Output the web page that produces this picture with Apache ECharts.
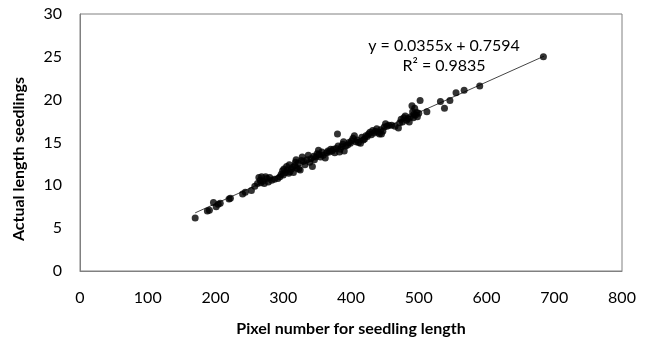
<!DOCTYPE html>
<html>
<head>
<meta charset="utf-8">
<script src="https://cdn.jsdelivr.net/npm/echarts@6/dist/echarts.min.js"></script>
<style>html,body{margin:0;padding:0;background:#fff;}#c{width:645px;height:350px;}</style>
</head>
<body>
<div id="c"></div>
<script>
var pixelCounts = [170,188,191,197,201,204,207,220,222,240,244,253,258,262,264,266,267,268,270,272,274,276,278,280,283,287,292,295,297,299,300,301,303,305,306,308,309,310,312,314,315,317,318,319,320,322,323,325,327,328,330,332,335,337,339,341,343,345,346,348,350,352,353,355,357,359,362,364,366,368,370,372,374,376,378,380,381,383,384,386,388,389,390,392,395,397,399,401,403,405,407,409,411,414,416,418,420,422,424,426,428,430,432,434,436,438,440,442,444,445,447,449,451,453,456,460,465,470,472,474,476,478,480,482,484,486,488,490,491,492,493,494,495,497,498,500,502,512,532,538,546,555,567,590,684];
var actualLengths = [6.2,7.0,7.1,8.0,7.5,7.8,7.9,8.4,8.5,9.0,9.2,9.4,9.9,10.2,10.9,10.6,10.3,11.0,10.5,10.2,11.0,10.8,10.4,10.9,10.6,10.7,10.8,11.0,11.3,11.7,11.2,11.9,11.5,12.2,11.8,11.4,12.4,11.6,11.9,12.1,11.5,12.3,12.7,13.0,12.0,12.6,11.9,11.8,12.9,13.3,12.8,12.4,13.0,13.5,12.7,13.1,12.2,13.4,13.0,13.3,13.7,14.1,13.6,13.3,13.9,13.5,13.2,13.8,14.0,13.9,14.2,14.0,14.2,13.8,14.3,16.0,14.6,13.9,14.2,14.5,14.8,15.1,14.0,14.6,14.7,15.0,14.9,15.2,15.5,15.8,15.1,15.3,15.0,14.9,15.6,15.3,15.4,15.8,15.7,16.0,16.2,15.9,16.4,16.1,16.3,16.6,16.2,16.0,16.5,16.0,16.3,16.8,17.2,16.9,17.0,17.0,16.9,16.7,17.3,17.7,17.4,17.9,18.1,17.6,17.8,17.4,18.0,19.3,18.6,17.9,18.3,19.0,18.2,18.5,18.0,18.4,19.9,18.6,19.8,19.0,19.9,20.8,21.1,21.6,25.0];
var trendX = [170, 685];
var trendY = [6.79, 25.08];
var equationText = 'y = 0.0355x + 0.7594';
var r2Text = 'R\u00b2 = 0.9835';
var xTitle = 'Pixel number for seedling length';
var yTitle = 'Actual length seedlings';

var pts = pixelCounts.map(function(x, i){ return [x, actualLengths[i]]; });
var trend = trendX.map(function(x, i){ return [x, trendY[i]]; });
var font = 'Lato, "Open Sans", sans-serif';

var chart = echarts.init(document.getElementById('c'));
chart.setOption({
  animation: false,
  grid: {left: 80, right: 23, top: 14, bottom: 79, show: true, borderColor: '#808080', borderWidth: 1},
  xAxis: {
    type: 'value', min: 0, max: 800, interval: 100,
    name: xTitle, nameLocation: 'middle', nameGap: 50,
    nameTextStyle: {fontFamily: font, fontWeight: 'bold', fontSize: 16, color: '#000'},
    axisLine: {show: true, lineStyle: {color: '#808080'}},
    axisTick: {show: false}, splitLine: {show: false},
    axisLabel: {fontFamily: font, fontSize: 16, color: '#000', margin: 19}
  },
  yAxis: {
    type: 'value', min: 0, max: 30, interval: 5,
    axisLine: {show: true, lineStyle: {color: '#808080'}},
    axisTick: {show: false}, splitLine: {show: false},
    axisLabel: {fontFamily: font, fontSize: 16, color: '#000', margin: 18}
  },
  graphic: [
    {type: 'text', x: 19, y: 159, rotation: Math.PI/2, style: {text: yTitle, fontFamily: font, fontWeight: 'bold', fontSize: 16, fill: '#000', align: 'center', verticalAlign: 'middle'}},
    {type: 'text', x: 444, y: 46, style: {text: equationText, fontFamily: font, fontSize: 16, fill: '#000', align: 'center', verticalAlign: 'middle'}},
    {type: 'text', x: 444, y: 66, style: {text: r2Text, fontFamily: font, fontSize: 16, fill: '#000', align: 'center', verticalAlign: 'middle'}}
  ],
  series: [
    {type: 'line', data: trend, symbol: 'none', lineStyle: {color: '#444', width: 1}, silent: true, z: 1},
    {type: 'scatter', data: pts, symbol: 'circle', symbolSize: 7, itemStyle: {color: '#000'}, z: 2}
  ]
});
</script>
</body>
</html>
